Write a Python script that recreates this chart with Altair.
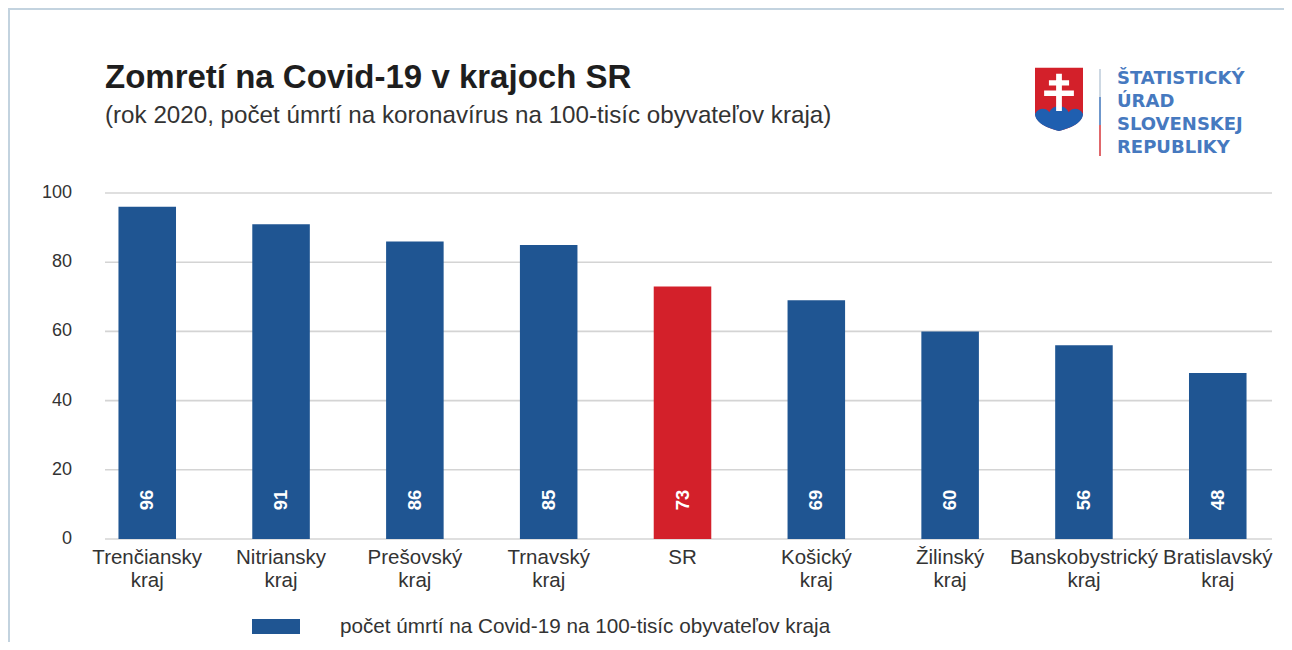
import altair as alt
import pandas as pd

regions = ["Trenčiansky kraj", "Nitriansky kraj", "Prešovský kraj", "Trnavský kraj", "SR",
           "Košický kraj", "Žilinský kraj", "Banskobystrický kraj", "Bratislavský kraj"]
values = [96, 91, 86, 85, 73, 69, 60, 56, 48]
y_ticks = [0, 20, 40, 60, 80, 100]

title_text = "Zomretí na Covid-19 v krajoch SR"
subtitle_text = "(rok 2020, počet úmrtí na koronavírus na 100-tisíc obyvateľov kraja)"
legend_text = "počet úmrtí na Covid-19 na 100-tisíc obyvateľov kraja"
logo_lines = ["ŠTATISTICKÝ", "ÚRAD", "SLOVENSKEJ", "REPUBLIKY"]

BLUE = "#1f5592"
RED = "#d3202a"
FONT = "Liberation Sans"

df = pd.DataFrame({"region": regions, "value": values})
ticks = pd.DataFrame({"tick": y_ticks})
one = pd.DataFrame({"k": [0]})

yscale = alt.Scale(domain=[0, 100])
xenc = alt.X("region:N", sort=None,
             scale=alt.Scale(paddingInner=0.57, paddingOuter=0.28),
             axis=alt.Axis(title=None, labelAngle=0, domain=False, ticks=False,
                           labelExpr="split(datum.label, ' ')",
                           labelFont=FONT, labelFontSize=20.5, labelColor="#333333",
                           labelPadding=8, labelLineHeight=23, labelBaseline="top"))

grid = alt.Chart(ticks).mark_rule(color="#d4d4d4", strokeWidth=1.6).encode(
    y=alt.Y("tick:Q", scale=yscale, axis=None),
    x=alt.value(24), x2=alt.value(1191))

ylabels = alt.Chart(ticks).mark_text(align="right", baseline="middle", font=FONT,
                                     fontSize=18, color="#333333").encode(
    y=alt.Y("tick:Q", scale=yscale, axis=None),
    x=alt.value(-9), text="tick:Q")

bars = alt.Chart(df).mark_bar().encode(
    x=xenc,
    y=alt.Y("value:Q", scale=yscale, axis=None),
    color=alt.condition(alt.datum.region == "SR", alt.value(RED), alt.value(BLUE)))

barlabels = alt.Chart(df).transform_calculate(base="0").mark_text(
    angle=270, align="center", baseline="middle", dx=39, font=FONT, fontSize=18.5,
    fontWeight="bold", color="white").encode(
    x=alt.X("region:N", sort=None),
    y=alt.Y("base:Q", scale=yscale, axis=None),
    text="value:Q")

title = alt.Chart(one).mark_text(align="left", baseline="alphabetic", font=FONT,
                                 fontSize=33, fontWeight="bold", color="#1e1e1e").encode(
    x=alt.value(24), y=alt.value(-105), text=alt.value(title_text))
subtitle = alt.Chart(one).mark_text(align="left", baseline="alphabetic", font=FONT,
                                    fontSize=24.2, color="#333333").encode(
    x=alt.value(24), y=alt.value(-70), text=alt.value(subtitle_text))

legend_sw = alt.Chart(one).mark_rect(color=BLUE).encode(
    x=alt.value(171), x2=alt.value(219), y=alt.value(426), y2=alt.value(441))
legend_tx = alt.Chart(one).mark_text(align="left", baseline="middle", font=FONT,
                                     fontSize=20.7, color="#333333").encode(
    x=alt.value(259), y=alt.value(434), text=alt.value(legend_text))

border = alt.Chart(one).mark_rect(fill=None, stroke="#c3d3df", strokeWidth=2).encode(
    x=alt.value(-72), x2=alt.value(1240), y=alt.value(-184), y2=alt.value(470))

shield_red = ("M-1,-1.3 L1,-1.3 L1,0.55 C1,1.0 0.5,1.2 0,1.33 "
              "C-0.5,1.2 -1,1.0 -1,0.55 Z")
shield_blue = ("M-1,0.62 C-0.85,0.35 -0.55,0.35 -0.4,0.55 C-0.25,0.2 0.25,0.2 0.4,0.55 "
               "C0.55,0.35 0.85,0.35 1,0.62 C0.98,1.0 0.5,1.2 0,1.33 "
               "C-0.5,1.2 -0.98,1.0 -1,0.62 Z")
shield_cross = ("M-0.12,-1.05 L0.12,-1.05 L0.12,0.5 L-0.12,0.5 Z "
                "M-0.42,-0.78 L0.42,-0.78 L0.42,-0.56 L-0.42,-0.56 Z "
                "M-0.62,-0.35 L0.62,-0.35 L0.62,-0.12 L-0.62,-0.12 Z")


def shield_part(path, color):
    return alt.Chart(one).mark_point(shape=path, filled=True, size=2304, opacity=1,
                                     color=color, strokeWidth=0).encode(
        x=alt.value(978), y=alt.value(-94))


logo_line_top = alt.Chart(one).mark_rule(color="#cdd8e3", strokeWidth=2).encode(
    x=alt.value(1019), y=alt.value(-124), y2=alt.value(-96))
logo_line_mid = alt.Chart(one).mark_rule(color="#6f97cb", strokeWidth=2).encode(
    x=alt.value(1019), y=alt.value(-96), y2=alt.value(-68))
logo_line_bot = alt.Chart(one).mark_rule(color="#e0676b", strokeWidth=2).encode(
    x=alt.value(1019), y=alt.value(-68), y2=alt.value(-37))

logo_texts = [
    alt.Chart(one).mark_text(align="left", baseline="alphabetic", font="DejaVu Sans",
                             fontSize=18, fontWeight="bold", color="#4679bf").encode(
        x=alt.value(1036), y=alt.value(-109 + 23 * i), text=alt.value(line))
    for i, line in enumerate(logo_lines)
]

chart = alt.layer(
    border, grid, ylabels, bars, barlabels, title, subtitle, legend_sw, legend_tx,
    shield_part(shield_red, RED), shield_part(shield_blue, "#1f5fb0"),
    shield_part(shield_cross, "white"),
    logo_line_top, logo_line_mid, logo_line_bot, *logo_texts
).properties(
    width=1203, height=346,
    autosize="none",
    padding={"left": 73, "top": 185, "right": 0, "bottom": 103},
    background="white"
).configure_view(stroke=None)

chart.save("out.html", embed_options={"renderer": "svg", "actions": False})
